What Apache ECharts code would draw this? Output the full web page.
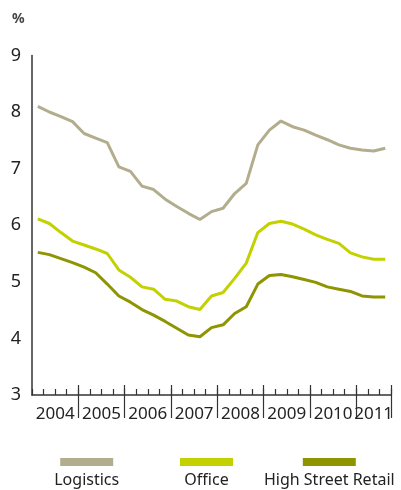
<!DOCTYPE html>
<html>
<head>
<meta charset="utf-8">
<script src="https://cdn.jsdelivr.net/npm/echarts@6/dist/echarts.min.js"></script>
<style>
html,body{margin:0;padding:0;background:#fff;}
#chart{width:401px;height:490px;}
</style>
</head>
<body>
<div id="chart"></div>
<script>
// Quarterly categories 2004 Q1 .. 2011 Q3
const years = [2004, 2005, 2006, 2007, 2008, 2009, 2010, 2011];
const quarters = [
  '2004Q1','2004Q2','2004Q3','2004Q4',
  '2005Q1','2005Q2','2005Q3','2005Q4',
  '2006Q1','2006Q2','2006Q3','2006Q4',
  '2007Q1','2007Q2','2007Q3','2007Q4',
  '2008Q1','2008Q2','2008Q3','2008Q4',
  '2009Q1','2009Q2','2009Q3','2009Q4',
  '2010Q1','2010Q2','2010Q3','2010Q4',
  '2011Q1','2011Q2','2011Q3'
];
const seriesNames = ['Logistics', 'Office', 'High Street Retail'];
const logistics = [8.10, 8.00, 7.92, 7.83, 7.62, 7.54, 7.46, 7.03, 6.95, 6.69, 6.63, 6.46, 6.33, 6.21, 6.10, 6.24,
                   6.30, 6.56, 6.74, 7.42, 7.68, 7.84, 7.74, 7.68, 7.59, 7.51, 7.42, 7.36, 7.33, 7.31, 7.36];
const office = [6.11, 6.03, 5.87, 5.72, 5.65, 5.58, 5.50, 5.21, 5.08, 4.91, 4.87, 4.69, 4.66, 4.56, 4.51, 4.75,
                4.81, 5.06, 5.33, 5.87, 6.03, 6.07, 6.02, 5.93, 5.83, 5.75, 5.68, 5.51, 5.44, 5.40, 5.40];
const retail = [5.52, 5.48, 5.41, 5.34, 5.26, 5.16, 4.96, 4.75, 4.64, 4.51, 4.41, 4.30, 4.18, 4.06, 4.03, 4.19,
                4.24, 4.44, 4.56, 4.96, 5.11, 5.13, 5.09, 5.04, 4.99, 4.91, 4.87, 4.83, 4.75, 4.73, 4.73];
const yTicks = [3, 4, 5, 6, 7, 8, 9];

const colors = ['#b2ad8c', '#c3d100', '#8e9500'];
const textColor = '#222';
const axisColor = '#333';
const FONT = 'Noto Sans';

const chart = echarts.init(document.getElementById('chart'), null, {renderer: 'canvas'});

function yearLabel(value, index) {
  const y = value.slice(0, 4);
  const q = value.slice(4);
  const yearsQuarters = quarters.filter(v => v.startsWith(y)).length;
  if (yearsQuarters === 4 && q === 'Q2') return '{s|' + y + '}';
  if (yearsQuarters === 3 && q === 'Q2') return '{n|' + y + '}';
  return '';
}

const legendItems = [];
const legendCenters = [86.7, 206.5, 329.3];
seriesNames.forEach((name, i) => {
  legendItems.push({
    type: 'rect',
    shape: {x: legendCenters[i] - 26.5, y: 458, width: 53, height: 8},
    style: {fill: colors[i]}
  });
  legendItems.push({
    type: 'text',
    x: legendCenters[i], y: 480.5,
    style: {text: name, fill: textColor, font: '16px "' + FONT + '"', align: 'center', verticalAlign: 'middle'}
  });
});
legendItems.push({
  type: 'text', x: 12, y: 19,
  style: {text: '%', fill: '#444', font: 'bold 14px "' + FONT + '"', verticalAlign: 'middle'}
});

const option = {
  animation: false,
  backgroundColor: '#fff',
  grid: {left: 32, right: 10, top: 55.4, bottom: 95, containLabel: false},
  xAxis: [
    {
      type: 'category', data: quarters, boundaryGap: true, position: 'bottom',
      axisLine: {show: true, lineStyle: {color: axisColor, width: 1.5}},
      axisTick: {show: true, inside: true, length: 6, interval: 0, lineStyle: {color: axisColor, width: 1.2}},
      axisLabel: {
        show: true, interval: 0, margin: 11, formatter: yearLabel,
        rich: {
          s: {fontFamily: FONT, fontSize: 17, color: textColor, padding: [0, 0, 0, 11.6]},
          n: {fontFamily: FONT, fontSize: 17, color: textColor}
        }
      },
      splitLine: {show: false}
    },
    {
      type: 'category', data: quarters, boundaryGap: true, position: 'bottom',
      axisLine: {show: false},
      axisTick: {show: true, inside: false, length: 23, interval: (i) => i % 4 === 0 && i > 0, lineStyle: {color: axisColor, width: 1.2}},
      axisLabel: {show: false},
      splitLine: {show: false}
    },
    {
      type: 'category', data: quarters, boundaryGap: true, position: 'bottom',
      axisLine: {show: false},
      axisTick: {show: true, inside: true, length: 10, interval: (i) => i % 4 === 0 && i > 0, lineStyle: {color: axisColor, width: 1.2}},
      axisLabel: {show: false},
      splitLine: {show: false}
    }
  ],
  yAxis: {
    type: 'value', min: yTicks[0], max: yTicks[yTicks.length - 1], interval: 1,
    axisLine: {show: true, lineStyle: {color: axisColor, width: 1.5}},
    axisTick: {show: false},
    axisLabel: {fontFamily: FONT, fontSize: 18, color: textColor, margin: 11},
    splitLine: {show: false}
  },
  series: [
    {name: seriesNames[0], type: 'line', data: logistics, xAxisIndex: 0, showSymbol: false, lineStyle: {color: colors[0], width: 3}, itemStyle: {color: colors[0]}},
    {name: seriesNames[1], type: 'line', data: office, xAxisIndex: 0, showSymbol: false, lineStyle: {color: colors[1], width: 3}, itemStyle: {color: colors[1]}},
    {name: seriesNames[2], type: 'line', data: retail, xAxisIndex: 0, showSymbol: false, lineStyle: {color: colors[2], width: 3}, itemStyle: {color: colors[2]}}
  ],
  graphic: legendItems
};
chart.setOption(option);
</script>
</body>
</html>
